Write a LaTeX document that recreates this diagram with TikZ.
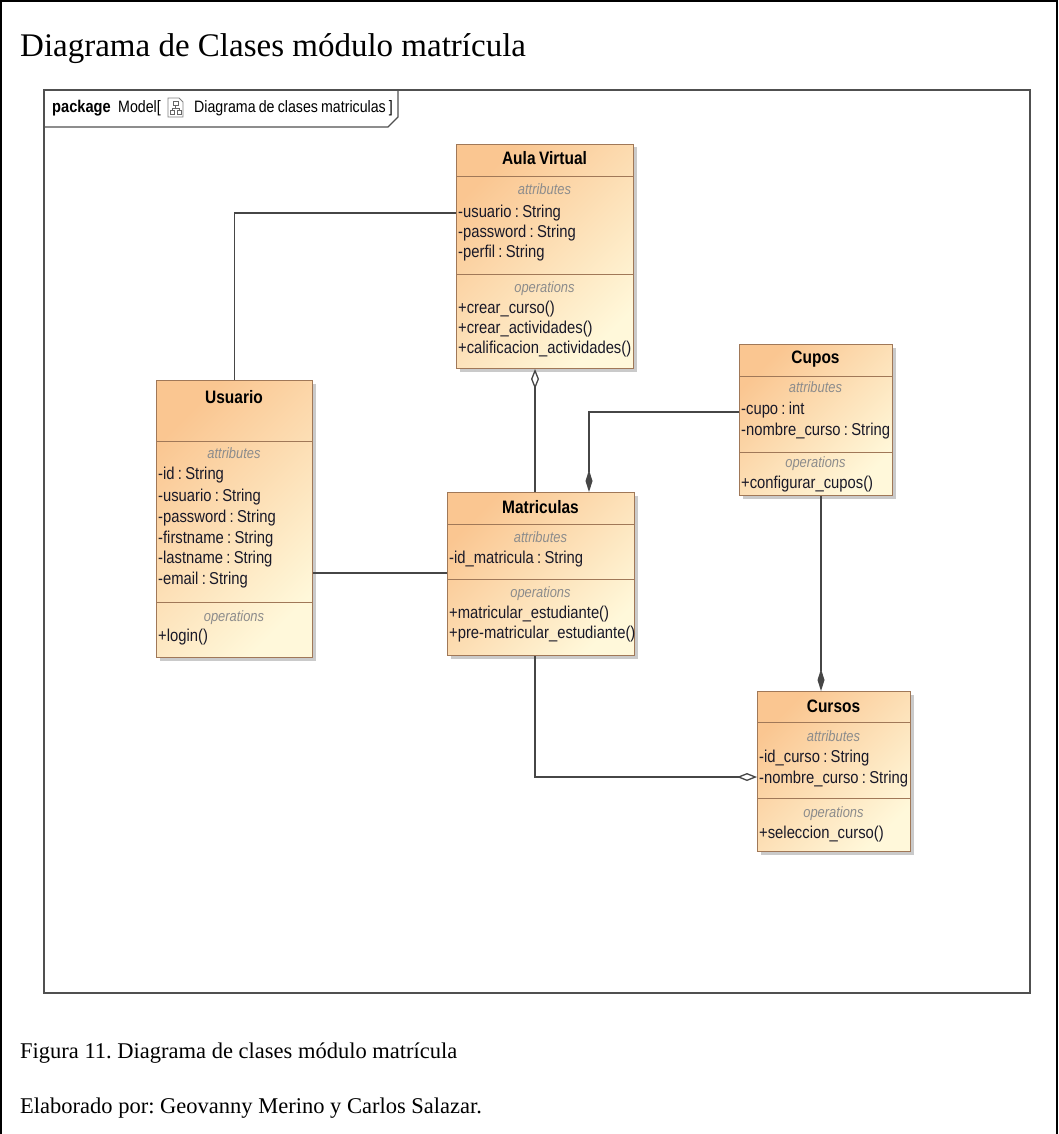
\documentclass[tikz,border=0pt]{standalone}
\usepackage{fontspec}
\setmainfont{Liberation Serif}
\newfontfamily\umlfont[FakeStretch=0.86, WordSpace=0.8]{Liberation Sans}
\usetikzlibrary{arrows.meta,shadows}
\frenchspacing

\definecolor{clsTop}{RGB}{250,198,145}
\definecolor{clsBot}{RGB}{255,248,218}
\definecolor{clsEdge}{RGB}{160,120,88}
\definecolor{wireCol}{RGB}{70,70,70}
\definecolor{memText}{RGB}{25,25,40}
\definecolor{hintText}{RGB}{140,140,140}
\definecolor{pkgLine}{RGB}{80,80,80}

\tikzset{
  classbox/.style={draw=clsEdge, line width=1pt, top color=clsTop, bottom color=clsBot,
    shading angle=45, inner sep=0, anchor=north west,
    drop shadow={shadow xshift=3pt, shadow yshift=-3pt, opacity=.35, fill=black!60}},
  compline/.style={draw=clsEdge, line width=1pt},
  cname/.style={font=\umlfont\bfseries\fontsize{18}{20}\selectfont, text=black, inner sep=0, anchor=mid, yshift=-3pt},
  comphead/.style={font=\umlfont\itshape\fontsize{15}{17}\selectfont, text=hintText, inner sep=0, anchor=mid, yshift=-2pt},
  member/.style={font=\umlfont\fontsize{17.2}{20}\selectfont, text=memText, inner sep=0, anchor=mid west, yshift=-3pt},
  wire/.style={draw=wireCol, line width=1.3pt},
  opendia/.tip={Diamond[length=20pt, width=8pt, fill=white]},
  fulldia/.tip={Diamond[length=22pt, width=7pt]},
  pkgtext/.style={font=\umlfont\fontsize{16.5}{18}\selectfont, text=black, inner sep=0, anchor=base west},
}

\begin{document}
\begin{tikzpicture}[x=1pt, y=-1pt]
\useasboundingbox (0,0) rectangle (1058,1134);

% page frame (open at the bottom)
\draw[line width=2pt] (1,1134) -- (1,1) -- (1057,1) -- (1057,1134);

% heading and captions
\node[anchor=base west, inner sep=0, font=\fontsize{33}{36}\selectfont] (title) at (20,57)
  {Diagrama de Clases módulo matrícula};
\node[anchor=base west, inner sep=0, font=\fontsize{22.5}{26}\selectfont] (cap1) at (20,1058)
  {Figura 11. Diagrama de clases módulo matrícula};
\node[anchor=base west, inner sep=0, font=\fontsize{22.5}{26}\selectfont] (cap2) at (20,1113)
  {Elaborado por: Geovanny Merino y Carlos Salazar.};

% package frame with its name tab
\draw[pkgLine, line width=1.2pt] (44,90) rectangle (1030,993);
\draw[pkgLine, line width=1.2pt] (44,127) -- (388,127) -- (398,117) -- (398,90);
\node[pkgtext, font=\umlfont\bfseries\fontsize{17}{18}\selectfont] (pkgkw) at (52,113) {package};
\node[pkgtext] (pkgname) at (118,113) {Model[};
% diagram icon
\draw[gray, line width=.8pt, fill=white] (168,98) -- (179,98) -- (183,102) -- (183,117) -- (168,117) -- cycle;
\draw[gray!80!black, line width=.7pt] (173,101) rectangle (178,105)
  (170,110) rectangle (174,114) (177,110) rectangle (181,114)
  (175.5,105) -- (175.5,108) (172,108) -- (179,108) (172,108) -- (172,110) (179,108) -- (179,110);
\node[pkgtext] (pkgdiag) at (194,113) {Diagrama de clases matriculas ]};

% ---------- Aula Virtual ----------
\node[classbox, minimum width=177pt, minimum height=224pt] (aula) at (456,144) {};
\draw[compline] (aula.west |- 0,177) -- (aula.east |- 0,177);
\draw[compline] (aula.west |- 0,274) -- (aula.east |- 0,274);
\node[cname] (aulaN) at (544.5,159) {Aula Virtual};
\node[comphead] (aulaA) at (544.5,190) {attributes};
\node[member] (aula1) at (458,212) {-usuario : String};
\node[member] (aula2) at (458,232) {-password : String};
\node[member] (aula3) at (458,252) {-perfil : String};
\node[comphead] (aulaO) at (544.5,288) {operations};
\node[member] (aula4) at (458,308) {+crear\_curso()};
\node[member] (aula5) at (458,328) {+crear\_actividades()};
\node[member] (aula6) at (458,348) {+calificacion\_actividades()};

% ---------- Usuario ----------
\node[classbox, minimum width=156pt, minimum height=277pt] (usuario) at (156,380) {};
\draw[compline] (usuario.west |- 0,441) -- (usuario.east |- 0,441);
\draw[compline] (usuario.west |- 0,602) -- (usuario.east |- 0,602);
\node[cname] (usuN) at (234,398) {Usuario};
\node[comphead] (usuA) at (234,454) {attributes};
\node[member] (usu1) at (158,474) {-id : String};
\node[member] (usu2) at (158,496) {-usuario : String};
\node[member] (usu3) at (158,517) {-password : String};
\node[member] (usu4) at (158,538) {-firstname : String};
\node[member] (usu5) at (158,558) {-lastname : String};
\node[member] (usu6) at (158,579) {-email : String};
\node[comphead] (usuO) at (234,617) {operations};
\node[member] (usu7) at (158,636) {+login()};

% ---------- Matriculas ----------
\node[classbox, minimum width=187pt, minimum height=163pt] (matr) at (447,492) {};
\draw[compline] (matr.west |- 0,524) -- (matr.east |- 0,524);
\draw[compline] (matr.west |- 0,579) -- (matr.east |- 0,579);
\node[cname] (matN) at (540.5,508) {Matriculas};
\node[comphead] (matA) at (540.5,538) {attributes};
\node[member] (mat1) at (449,558) {-id\_matricula : String};
\node[comphead] (matO) at (540.5,593) {operations};
\node[member] (mat2) at (449,613) {+matricular\_estudiante()};
\node[member] (mat3) at (449,633) {+pre-matricular\_estudiante()};

% ---------- Cupos ----------
\node[classbox, minimum width=153pt, minimum height=151pt] (cupos) at (739,344) {};
\draw[compline] (cupos.west |- 0,376) -- (cupos.east |- 0,376);
\draw[compline] (cupos.west |- 0,452) -- (cupos.east |- 0,452);
\node[cname] (cupN) at (815.5,358) {Cupos};
\node[comphead] (cupA) at (815.5,388) {attributes};
\node[member] (cup1) at (741,409) {-cupo : int};
\node[member] (cup2) at (741,430) {-nombre\_curso : String};
\node[comphead] (cupO) at (815.5,463) {operations};
\node[member] (cup3) at (741,483) {+configurar\_cupos()};

% ---------- Cursos ----------
\node[classbox, minimum width=153pt, minimum height=160pt] (cursos) at (757,691) {};
\draw[compline] (cursos.west |- 0,722) -- (cursos.east |- 0,722);
\draw[compline] (cursos.west |- 0,798) -- (cursos.east |- 0,798);
\node[cname] (curN) at (833.5,707) {Cursos};
\node[comphead] (curA) at (833.5,737) {attributes};
\node[member] (cur1) at (759,757) {-id\_curso : String};
\node[member] (cur2) at (759,778) {-nombre\_curso : String};
\node[comphead] (curO) at (833.5,813) {operations};
\node[member] (cur3) at (759,833) {+seleccion\_curso()};

% ---------- relations ----------
\draw[wire] (usuario.north) |- (aula.west |- 0,213);
\draw[wire, {opendia}-] (aula.south -| 535,0) -- (matr.north -| 535,0);
\draw[wire, -{fulldia}] (cupos.west |- 0,412) -| (matr.north -| 589,0);
\draw[wire] (usuario.east |- 0,573) -- (matr.west |- 0,573);
\draw[wire, -{opendia}] (matr.south -| 535,0) |- (cursos.west |- 0,777);
\draw[wire, -{fulldia}] (cupos.south -| 821,0) -- (cursos.north -| 821,0);
\end{tikzpicture}
\end{document}
